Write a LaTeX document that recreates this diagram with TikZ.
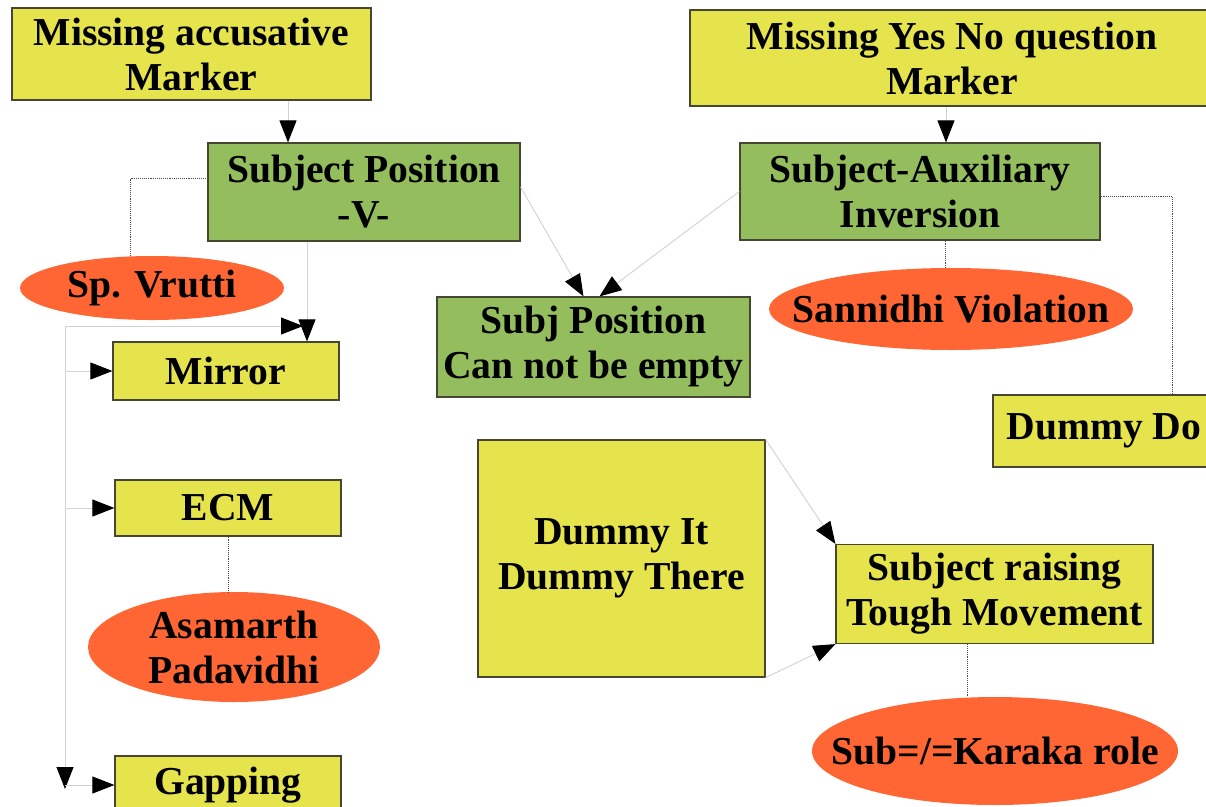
\documentclass[tikz,border=0pt]{standalone}
\usepackage{fontspec}
\setmainfont{Liberation Serif}
\usetikzlibrary{arrows.meta,shapes.geometric,calc}
\definecolor{boxyellow}{RGB}{230,228,76}
\definecolor{boxgreen}{RGB}{148,190,94}
\definecolor{ovalred}{RGB}{255,102,51}
\definecolor{edgegray}{RGB}{70,70,50}
\definecolor{linegray}{RGB}{210,210,210}
\begin{document}
\begin{tikzpicture}[x=1pt,y=-1pt,
  every node/.style={font=\fontsize{39.6}{45}\selectfont\bfseries, align=center, inner sep=0pt},
  ybox/.style={rectangle, draw=edgegray, line width=1.2pt, fill=boxyellow},
  gbox/.style={rectangle, draw=edgegray, line width=1.2pt, fill=boxgreen},
  oval/.style={ellipse, fill=ovalred},
  arr/.style={draw=linegray, line width=0.9pt, -{Triangle[length=22pt,width=17pt,color=black]}},
  dots/.style={draw=black!70, line width=0.9pt, densely dotted}
]
\useasboundingbox (0,0) rectangle (1206,806);
\clip (0,0) rectangle (1206,806);
\fill[white] (0,0) rectangle (1206,806);

% boxes
\node[ybox, minimum width=359pt, minimum height=92pt] (macc) at (191.5,54) {Missing accusative\\Marker};
\node[ybox, minimum width=524pt, minimum height=96pt] (myes) at (952,58) {Missing Yes No question\\Marker};
\node[gbox, minimum width=312pt, minimum height=98pt] (subjpos) at (364,192) {Subject Position\\-V-};
\node[gbox, minimum width=360pt, minimum height=97pt] (sai) at (920,191.5) {Subject-Auxiliary\\Inversion};
\node[oval, minimum width=264pt, minimum height=64pt] (spv) at (152,288) {};
\node at (spv) {Sp. Vrutti};
\node[ybox, minimum width=226pt, minimum height=58pt] (mirror) at (226,371) {Mirror};
\node[gbox, minimum width=313pt, minimum height=100pt] (subjempty) at (593.5,347) {Subj Position\\Can not be empty};
\node[oval, minimum width=364pt, minimum height=82pt] (sann) at (951,309) {};
\node at (sann) {Sannidhi Violation};
\node[ybox, minimum width=222pt, minimum height=72pt] (dummydo) at (1104,431) {Dummy Do};
\node[ybox, minimum width=226pt, minimum height=56pt] (ecm) at (228,508) {ECM};
\node[oval, minimum width=292pt, minimum height=110pt] (asam) at (234,647) {};
\node at (asam) {Asamarth\\Padavidhi};
\node[ybox, minimum width=226pt, minimum height=58pt] (gapping) at (228,785) {Gapping};
\node[ybox, minimum width=287pt, minimum height=237pt] (dummyit) at (621.5,558.5) {Dummy It\\Dummy There};
\node[ybox, minimum width=317pt, minimum height=99pt] (sraise) at (994.5,594) {Subject raising\\Tough Movement};
\node[oval, minimum width=366pt, minimum height=108pt] (kar) at (995,751) {};
\node at (kar) {Sub=/=Karaka role};

% connectors
\coordinate (a1) at ([xshift=-76pt]subjpos.north);
\draw[arr] (macc.south -| a1) -- (a1);
\coordinate (a2) at ([xshift=26pt]sai.north);
\draw[arr] (myes.south -| a2) -- (a2);
\draw[dots] ([yshift=14pt]subjpos.west) -| ([xshift=-22pt]spv.north);
\coordinate (a3) at ([xshift=81pt]mirror.north);
\draw[arr] (subjpos.south -| a3) -- (a3);

\coordinate (L0) at (65,326);
\coordinate (L1) at (303,326);
\coordinate (L2) at (65,789);
\draw[arr] (L0) -- (L1);
\draw[arr] (L0) -- (L2);
\draw[arr] (L0 |- mirror.west) -- (mirror.west);
\draw[arr] (L0 |- ecm.west) -- (ecm.west);
\draw[arr] (L0 |- gapping.west) -- (gapping.west);

\draw[dots] (ecm.south) -- (ecm.south |- asam.north);
\draw[arr] ([yshift=5pt]subjpos.east) -- ([xshift=-10pt]subjempty.north);
\draw[arr] (sai.west) -- ([xshift=6pt]subjempty.north);
\draw[dots] ([xshift=25pt]sai.south) -- ([xshift=25pt]sai.south |- sann.north);
\draw[dots] ([yshift=-5pt]sai.east) -| ([xshift=68pt]dummydo.north);
\draw[arr] (dummyit.north east) -- (sraise.north west);
\draw[arr] (dummyit.south east) -- (sraise.south west);
\draw[dots] ([xshift=-27.5pt]sraise.south) -- ([xshift=-27.5pt]sraise.south |- kar.north);
\end{tikzpicture}
\end{document}
